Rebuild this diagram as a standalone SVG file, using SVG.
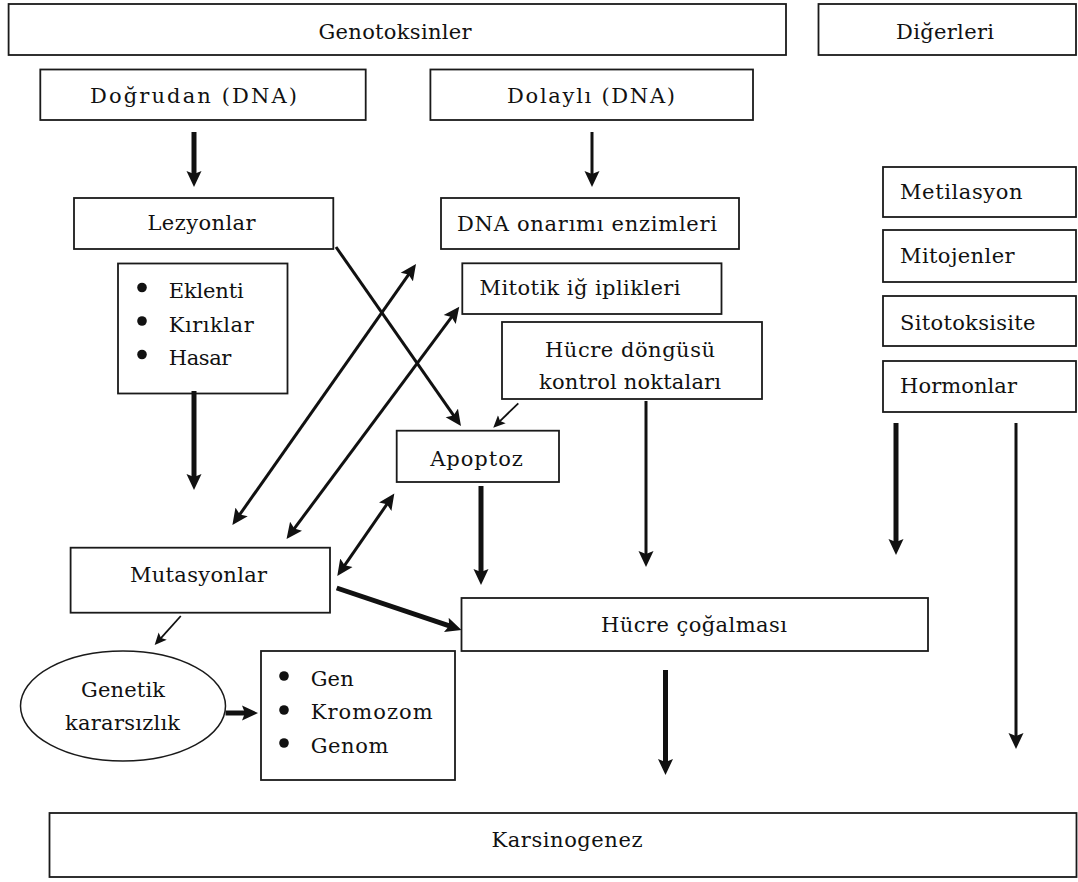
<svg xmlns="http://www.w3.org/2000/svg" width="1078" height="882" viewBox="0 0 1078 882">
<style>
.box{fill:#fff;stroke:#1a1a1a;stroke-width:1.8}
.c{text-anchor:middle}
.thick{stroke:#111;stroke-width:5;fill:none}
.thin{stroke:#111;stroke-width:3;fill:none}
.fine{stroke:#111;stroke-width:1.8;fill:none}
.dot{fill:#111}
</style>
<defs>
<marker id="ah" viewBox="0 -8 17 16" refX="4" refY="0" markerWidth="17" markerHeight="16" markerUnits="userSpaceOnUse" orient="auto-start-reverse">
<path d="M0,-7.5 L16,0 L0,7.5 L3,0 Z" fill="#111"/>
</marker>
<marker id="as" viewBox="0 -6 13 12" refX="3" refY="0" markerWidth="13" markerHeight="12" markerUnits="userSpaceOnUse" orient="auto-start-reverse">
<path d="M0,-5.5 L12,0 L0,5.5 L2.5,0 Z" fill="#111"/>
</marker>
</defs>
<rect width="1078" height="882" fill="#fff"/>

<g id="nodes" font-family="DejaVu Serif, Liberation Serif, serif" font-size="21" fill="#111">
<g id="genotoksinler"><rect class="box" x="8.6" y="4" width="777.4" height="51"/><text class="c" x="395" y="39" textLength="153" lengthAdjust="spacing">Genotoksinler</text></g>
<g id="digerleri"><rect class="box" x="818.5" y="4" width="257.5" height="51"/><text class="c" x="945" y="39" textLength="98" lengthAdjust="spacing">Diğerleri</text></g>
<g id="dogrudan"><rect class="box" x="40.3" y="69.5" width="325.4" height="50.5"/><text class="c" x="193.5" y="103" textLength="207" lengthAdjust="spacing">Doğrudan (DNA)</text></g>
<g id="dolayli"><rect class="box" x="430.4" y="69.5" width="322.6" height="50.5"/><text class="c" x="591" y="103" textLength="168" lengthAdjust="spacing">Dolaylı (DNA)</text></g>
<g id="lezyonlar"><rect class="box" x="74" y="198" width="259.3" height="51"/><text class="c" x="201.5" y="230" textLength="108" lengthAdjust="spacing">Lezyonlar</text></g>
<g id="dna-onarimi"><rect class="box" x="441" y="198" width="298" height="51"/><text class="c" x="587" y="231" textLength="260" lengthAdjust="spacing">DNA onarımı enzimleri</text></g>
<g id="mitotik"><rect class="box" x="462.3" y="263.3" width="259.2" height="50.7"/><text class="c" x="580" y="295" textLength="201" lengthAdjust="spacing">Mitotik iğ iplikleri</text></g>
<g id="lezyon-listesi"><rect class="box" x="118" y="263.5" width="169.5" height="130"/>
<circle class="dot" cx="142" cy="287.5" r="4.8"/><circle class="dot" cx="142" cy="321" r="4.8"/><circle class="dot" cx="142" cy="354.5" r="4.8"/>
<text x="168.7" y="298" textLength="75" lengthAdjust="spacing">Eklenti</text>
<text x="168.7" y="332" textLength="85" lengthAdjust="spacing">Kırıklar</text>
<text x="168.7" y="365" textLength="62.7" lengthAdjust="spacing">Hasar</text></g>
<g id="hucre-dongusu"><rect class="box" x="502" y="322" width="260" height="77"/><text class="c" x="630" y="357" textLength="170" lengthAdjust="spacing">Hücre döngüsü</text><text class="c" x="630" y="389" textLength="182" lengthAdjust="spacing">kontrol noktaları</text></g>
<g id="apoptoz"><rect class="box" x="396.7" y="430.7" width="162.3" height="51.3"/><text class="c" x="476.5" y="466" textLength="92.7" lengthAdjust="spacing">Apoptoz</text></g>
<g id="metilasyon"><rect class="box" x="883" y="167" width="193" height="50"/><text x="900" y="199" textLength="122.5" lengthAdjust="spacing">Metilasyon</text></g>
<g id="mitojenler"><rect class="box" x="883" y="230" width="193" height="52"/><text x="900" y="263" textLength="114.5" lengthAdjust="spacing">Mitojenler</text></g>
<g id="sitotoksisite"><rect class="box" x="883" y="296" width="193" height="50"/><text x="900" y="330" textLength="135.5" lengthAdjust="spacing">Sitotoksisite</text></g>
<g id="hormonlar"><rect class="box" x="883" y="361" width="193" height="51"/><text x="900" y="393" textLength="117" lengthAdjust="spacing">Hormonlar</text></g>
<g id="mutasyonlar"><rect class="box" x="70.6" y="547.7" width="259.4" height="65"/><text class="c" x="198.5" y="582" textLength="137" lengthAdjust="spacing">Mutasyonlar</text></g>
<g id="hucre-cogalmasi"><rect class="box" x="461.5" y="598" width="466.5" height="53"/><text class="c" x="694" y="632" textLength="186" lengthAdjust="spacing">Hücre çoğalması</text></g>
<g id="genetik-kararsizlik"><ellipse fill="#fff" stroke="#1a1a1a" stroke-width="1.5" cx="123" cy="706" rx="102.5" ry="55"/><text class="c" x="123" y="697" textLength="84" lengthAdjust="spacing">Genetik</text><text class="c" x="122.6" y="730" textLength="115" lengthAdjust="spacing">kararsızlık</text></g>
<g id="gen-listesi"><rect class="box" x="261" y="651" width="194" height="129"/>
<circle class="dot" cx="284" cy="676" r="4.8"/><circle class="dot" cx="284" cy="710" r="4.8"/><circle class="dot" cx="284" cy="743" r="4.8"/>
<text x="310.7" y="686" textLength="43" lengthAdjust="spacing">Gen</text>
<text x="310.7" y="719" textLength="122" lengthAdjust="spacing">Kromozom</text>
<text x="310.7" y="753" textLength="77.7" lengthAdjust="spacing">Genom</text></g>
<g id="karsinogenez"><rect class="box" x="49.5" y="813" width="1027" height="64"/><text class="c" x="567" y="847" textLength="151" lengthAdjust="spacing">Karsinogenez</text></g>
</g>

<g id="connectors">
<line class="thick" x1="194" y1="132" x2="194" y2="175" marker-end="url(#ah)"/>
<line class="thin" x1="592" y1="132" x2="592" y2="175" marker-end="url(#ah)"/>
<line class="thin" x1="336" y1="247" x2="454.1" y2="416.2" marker-end="url(#ah)"/>
<line class="thin" x1="239.3" y1="515.2" x2="409.1" y2="273.8" marker-start="url(#ah)" marker-end="url(#ah)"/>
<line class="thin" x1="293.7" y1="529.4" x2="452.1" y2="316.3" marker-start="url(#ah)" marker-end="url(#ah)"/>
<line class="thin" x1="344.1" y1="566.1" x2="387.5" y2="503.4" marker-start="url(#ah)" marker-end="url(#ah)"/>
<line class="fine" x1="518.3" y1="403.3" x2="499.7" y2="421.4" marker-end="url(#as)"/>
<line class="thick" x1="481" y1="486" x2="481" y2="573" marker-end="url(#ah)"/>
<line class="thick" x1="336.7" y1="588" x2="450.1" y2="626.2" marker-end="url(#ah)"/>
<line class="thin" x1="646" y1="401" x2="646" y2="555" marker-end="url(#ah)"/>
<line class="thick" x1="896" y1="423" x2="896" y2="543" marker-end="url(#ah)"/>
<line class="thin" x1="1016" y1="423" x2="1016" y2="737" marker-end="url(#ah)"/>
<line class="thick" x1="665.5" y1="670" x2="665.5" y2="763" marker-end="url(#ah)"/>
<line class="thick" x1="194" y1="391" x2="194" y2="478" marker-end="url(#ah)"/>
<line class="fine" x1="180.8" y1="616" x2="160.7" y2="638.3" marker-end="url(#as)"/>
<line class="thick" x1="225.5" y1="713" x2="246" y2="713" marker-end="url(#ah)"/>
</g>
</svg>
